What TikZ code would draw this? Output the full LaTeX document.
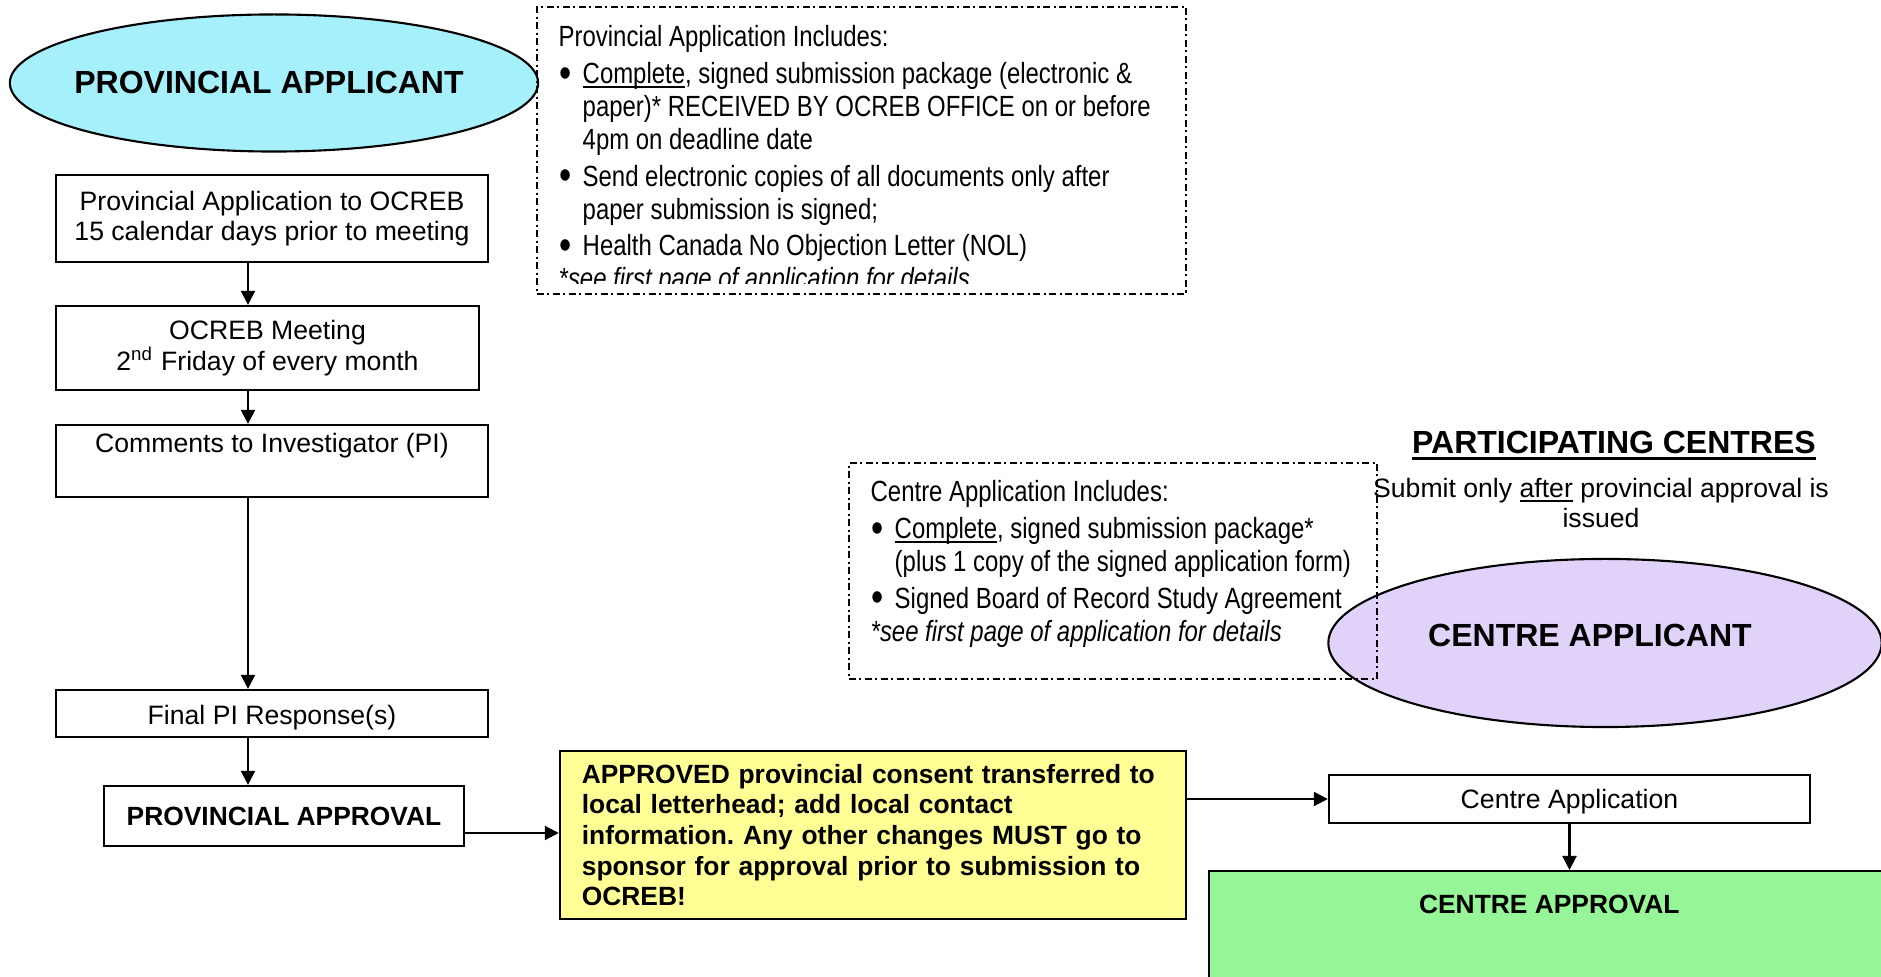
\documentclass[tikz,border=0pt]{standalone}
\usepackage{fontspec}
\usepackage{graphicx}
\setmainfont{Liberation Sans}
\newfontfamily\narrowfont[FakeStretch=0.82]{Liberation Sans}
\usetikzlibrary{shapes.geometric,arrows.meta}
\definecolor{cyanfill}{RGB}{165,240,250}
\definecolor{lavfill}{RGB}{225,210,250}
\definecolor{yellowfill}{RGB}{255,255,150}
\definecolor{greenfill}{RGB}{150,245,150}
\newcommand\regfont{\fontsize{7.57pt}{8.7pt}\selectfont}
\newcommand\boldtext{\fontsize{7.5pt}{8.7pt}\selectfont\bfseries}
\newcommand\bigbold{\fontsize{9.1pt}{10.5pt}\selectfont\bfseries}
\newcommand\narrowtext{\narrowfont\fontsize{8.3pt}{9.4pt}\selectfont}
\newcommand\mybul{\makebox[0.24cm][l]{\hspace{0.01cm}\raisebox{-0.13em}{\scalebox{1.45}{\textbullet}}}}
\newcommand\myind{\hspace*{0.24cm}}
\newcommand\myul[1]{\setbox0\hbox{#1}\rlap{\raisebox{-1.3pt}{\rule{\wd0}{0.45pt}}}#1}
\newcommand\myulb[1]{\setbox0\hbox{#1}\rlap{\raisebox{-1.7pt}{\rule{\wd0}{0.85pt}}}#1}
\tikzset{
  box/.style={draw, line width=0.6pt, inner sep=0pt, font=\regfont, align=center},
  dashbox/.style={draw, line width=0.6pt, inner sep=0pt,
    dash pattern=on 0.07cm off 0.035cm on 0.02cm off 0.035cm},
  ell/.style={ellipse, draw, line width=0.6pt, inner sep=0pt},
  arr/.style={line width=0.6pt, -{Triangle[length=0.14cm, width=0.14cm]}},
  note/.style={inner sep=0pt, align=left, font=\narrowtext}
}
\begin{document}
\frenchspacing
\begin{tikzpicture}[x=0.01cm, y=-0.01cm]
\useasboundingbox (0,0) rectangle (1881,977);
\clip (0,0) rectangle (1881,977);

% provincial applicant
\node[ell, fill=cyanfill, minimum width=5.28cm, minimum height=1.37cm, font=\bigbold] (pa) at (274,83) {\makebox[0pt]{\hspace{-0.1cm}PROVINCIAL APPLICANT}};

% provincial application includes
\begin{scope}
\clip (537,7) rectangle (1186,284);
\node[note, anchor=north west] (ptext) at (558,25) {Provincial Application Includes:\\[1pt]
\mybul\myul{Complete}, signed submission package (electronic \&\\
\myind paper)* RECEIVED BY OCREB OFFICE on or before\\
\myind 4pm on deadline date\\[1pt]
\mybul Send electronic copies of all documents only after\\
\myind paper submission is signed;\\[1pt]
\mybul Health Canada No Objection Letter (NOL)\\
\textit{*see first page of application for details}};
\end{scope}
\node[dashbox, minimum width=6.49cm, minimum height=2.87cm] (pinc) at (861.5,150.5) {};

% left column
\coordinate (colx) at (248,0);
\node[box, minimum width=4.32cm, minimum height=0.87cm] (a) at (272,218.5) {Provincial Application to OCREB\\15 calendar days prior to meeting};
\node[box, minimum width=4.23cm, minimum height=0.84cm] (b) at (267.5,348) {OCREB Meeting\\2\textsuperscript{nd} Friday of every month};
\node[box, minimum width=4.32cm, text height=0.28cm, text depth=0.44cm] (c) at (272,461) {Comments to Investigator (PI)};
\node[box, minimum width=4.32cm, text height=0.35cm, text depth=0.12cm] (d) at (272,713.5) {Final PI Response(s)};
\node[box, minimum width=3.60cm, minimum height=0.60cm, font=\boldtext] (e) at (284,816) {PROVINCIAL APPROVAL};

\draw[arr] (a.south -| colx) -- (b.north -| colx);
\draw[arr] (b.south -| colx) -- (c.north -| colx);
\draw[arr] (c.south -| colx) -- (d.north -| colx);
\draw[arr] (d.south -| colx) -- (e.north -| colx);

% yellow box
\node[box, fill=yellowfill, minimum width=6.26cm, minimum height=1.68cm, text width=5.82cm, align=left, font=\boldtext] (y) at (873,835) {APPROVED provincial consent transferred to\\local letterhead; add local contact\\information. Any other changes MUST go to\\sponsor for approval prior to submission to\\OCREB!};
\coordinate (ey) at (0,833);
\draw[arr] (e.east |- ey) -- (y.west |- ey);

% participating centres
\node[font=\bigbold, anchor=base, inner sep=0pt] (pc) at (1614,454) {\myulb{PARTICIPATING CENTRES}};
\node[font=\regfont, align=center, inner sep=0pt] (sub) at (1601,503) {Submit only \myul{after} provincial approval is\\issued};

% centre applicant
\node[ell, fill=lavfill, minimum width=5.53cm, minimum height=1.68cm] (ca) at (1605,643) {};
\node[font=\bigbold, inner sep=0pt] (cat) at (1590,635) {CENTRE APPLICANT};

% centre application includes
\node[note, anchor=north west] (ctext) at (870,480) {Centre Application Includes:\\[1pt]
\mybul\myul{Complete}, signed submission package*\\
\myind (plus 1 copy of the signed application form)\\[1pt]
\mybul Signed Board of Record Study Agreement\\
\textit{*see first page of application for details}};
\node[dashbox, minimum width=5.28cm, minimum height=2.16cm] (cinc) at (1113,571) {};

% centre application and approval
\node[box, minimum width=4.81cm, text height=0.34cm, text depth=0.14cm] (cap) at (1569.5,799) {Centre Application};
\node[box, fill=greenfill, anchor=north west, minimum width=6.80cm, text height=0.42cm, text depth=1.18cm, font=\boldtext] (g) at (1208,870) {CENTRE APPROVAL};

\draw[arr] (y.east |- cap.west) -- (cap.west);
\draw[arr] (cap.south) -- (g.north -| cap.south);
\end{tikzpicture}
\end{document}
